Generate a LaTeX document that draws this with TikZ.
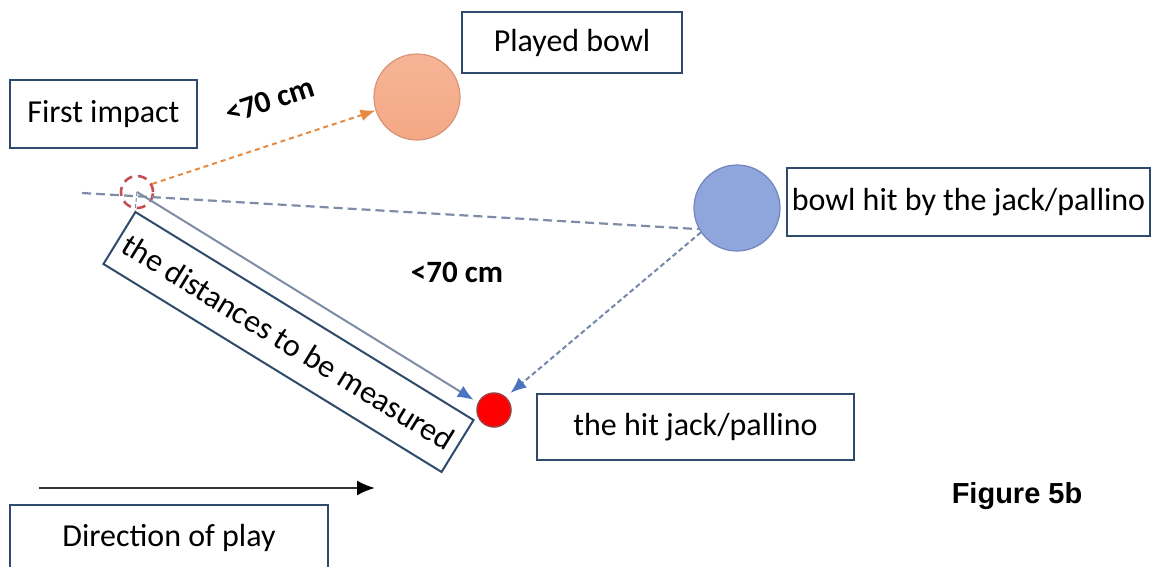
\documentclass[tikz,border=0pt]{standalone}
\usepackage{fontspec}
\setmainfont{Carlito}
\newfontfamily\figfont{Liberation Sans}
\usepackage{xcolor}
\usepackage{tikz}
\usetikzlibrary{
    shapes,
    shapes.geometric,
    positioning,
    arrows.meta
}
\definecolor{boxline}{HTML}{2F4B6C}
\definecolor{playedfill}{HTML}{F4A884}
\definecolor{playedline}{HTML}{D99578}
\definecolor{hitfill}{HTML}{8EA6DB}
\definecolor{hitline}{HTML}{7086BC}
\definecolor{guidegray}{HTML}{7E8CA6}
\definecolor{orangepath}{HTML}{E58A3E}
\definecolor{bluetip}{HTML}{4A74C0}
\definecolor{impactred}{HTML}{C45055}
\tikzset{
  basic/.style = {
      draw=boxline,
      line width=2pt,
      rectangle,
      fill=white,
      align=center,
      inner sep=0pt,
      font=\fontsize{32}{38}\selectfont
  },
  callout/.style = {
      basic,
      minimum width=#1
  },
  bowl/.style = {
      circle,
      draw,
      line width=1.2pt,
      minimum size=86pt,
      inner sep=0pt
  },
  jack/.style = {
      circle,
      draw=impactred!80!black,
      line width=1.5pt,
      fill=red,
      minimum size=34pt,
      inner sep=0pt
  },
  impact/.style = {
      circle,
      draw=impactred,
      line width=2.6pt,
      dash pattern=on 9pt off 6pt,
      minimum size=32pt,
      inner sep=0pt
  },
  limit/.style = {
      font=\fontsize{31}{37}\selectfont\bfseries
  },
  guide/.style = {
      draw=guidegray,
      line width=2.2pt,
      dash pattern=on 9pt off 5pt
  },
  edge/.style = {
      line width=2pt,
      -{Latex[length=16pt,width=13pt]}
  }
}

\begin{document}
\begin{tikzpicture}[x=1pt, y=-1pt]
    \useasboundingbox (0,0) rectangle (1152,566);
    \clip (0,0) rectangle (1152,566);
    % Bowls
    \node[impact] (impact) at (137,192) {};
    \node[bowl, draw=playedline, top color=playedfill!85!white, bottom color=playedfill] (played) at (417,97) {};
    \node[bowl, draw=hitline, fill=hitfill] (hit) at (737,208) {};
    \node[jack] (pallino) at (494,410) {};
    % Labels
    \node[callout=187pt, minimum height=68pt] (first) at (103.5,114) {First impact};
    \node[callout=220pt, minimum height=61pt] (playedlbl) at (572,42.5) {Played bowl};
    \node[callout=363pt, minimum height=68pt] (hitlbl) at (968.5,202) {bowl hit by the jack/pallino};
    \node[callout=317pt, minimum height=66pt] (pallinolbl) at (695.5,427) {the hit jack/pallino};
    \node[callout=397pt, minimum height=61pt, rotate=-31.6] (dist) at (288.5,342) {the distances to be measured};
    \node[basic, minimum width=318pt, anchor=north, text height=31pt, text depth=40pt, inner ysep=10pt] (dirlbl) at (169,504) {Direction of play};
    \node[limit, rotate=18] (limitone) at (270,100) {<70 cm};
    \node[limit] (limittwo) at (457,272) {<70 cm};
    \node[font=\figfont\fontsize{29}{34}\selectfont\bfseries] (fig) at (1017,496) {Figure 5b};
    % Edges
    \coordinate (lineback) at (82,193);
    \draw[guide] (lineback) -- (hit.209);
    \draw[draw=guidegray, line width=1pt, dash pattern=on 4pt off 2pt] (impact.center) -- (dist.north west);
    \draw[edge, draw=orangepath, dash pattern=on 5pt off 4pt, -{Latex[length=15pt,width=12pt]}] (impact.28) -- (played.198);
    \draw[edge, draw=guidegray, -{Latex[length=16pt,width=13pt,color=bluetip]}, shorten >=5pt] (impact.center) -- (pallino.155);
    \draw[edge, draw=guidegray!80!bluetip, dash pattern=on 5pt off 3pt, -{Latex[length=16pt,width=13pt,color=bluetip]}, shorten >=6pt] (hit.214) -- (pallino.48);
    \coordinate (dirstart) at (39,488);
    \coordinate (dirend) at (375,488);
    \draw[edge, draw=black!80, line width=2.2pt, -{Latex[length=18pt,width=15pt,color=black]}] (dirstart) -- (dirend);
\end{tikzpicture}
\end{document}
